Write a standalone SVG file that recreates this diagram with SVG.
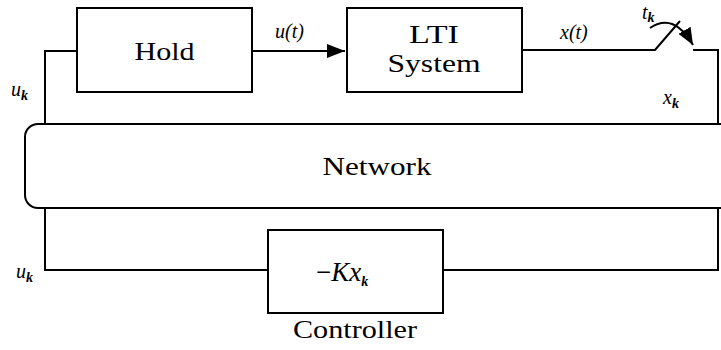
<svg xmlns="http://www.w3.org/2000/svg" width="721" height="350" viewBox="0 0 721 350">
  <defs>
    <marker id="arrowBig" viewBox="0 0 10 10" refX="10" refY="5" markerWidth="18" markerHeight="14" markerUnits="userSpaceOnUse" orient="auto" preserveAspectRatio="none">
      <path d="M0,0 L10,5 L0,10 z" fill="#000"/>
    </marker>
    <marker id="arrowSw" viewBox="0 0 10 10" refX="10" refY="5" markerWidth="17" markerHeight="14" markerUnits="userSpaceOnUse" orient="auto" preserveAspectRatio="none">
      <path d="M0,0 L10,5 L0,10 z" fill="#000"/>
    </marker>
  </defs>
  <style>
    .box { fill: #fff; stroke: #000; stroke-width: 2; }
    .wire { fill: none; stroke: #000; stroke-width: 2; }
    .lbl { fill: #000; }
    .block { font-size: 26px; text-anchor: middle; }
    .math { font-size: 20px; font-style: italic; }
    .sub { font-size: 14px; font-style: italic; font-weight: bold; }
  </style>
  <rect width="721" height="350" fill="#fff"/>

  <!-- connectors -->
  <g id="connectors">
    <!-- network to hold -->
    <polyline class="wire" points="45,124 45,51 77,51"/>
    <!-- hold to plant -->
    <line class="wire" x1="252" y1="51" x2="345" y2="51" marker-end="url(#arrowBig)"/>
    <!-- plant output through sampler -->
    <polyline class="wire" points="522,50 655,50 680,21"/>
    <polyline class="wire" points="693,50 718,50 718,124"/>
    <path class="wire" d="M650,28 Q674,12 693,45" marker-end="url(#arrowSw)"/>
    <!-- network to controller and back -->
    <polyline class="wire" points="718,208 718,270 443,270"/>
    <polyline class="wire" points="268,270 45,270 45,208"/>
  </g>

  <g font-family="'Liberation Serif', 'Times New Roman', 'DejaVu Serif', serif">
  <g id="hold">
    <rect class="box" x="77" y="8" width="175" height="84"/>
    <text class="lbl block" x="164.5" y="60" textLength="60" lengthAdjust="spacingAndGlyphs">Hold</text>
  </g>

  <g id="lti">
    <rect class="box" x="347" y="8" width="175" height="84"/>
    <text class="lbl block" x="434" y="43" textLength="50" lengthAdjust="spacingAndGlyphs">LTI</text>
    <text class="lbl block" x="434" y="72" textLength="93" lengthAdjust="spacingAndGlyphs">System</text>
  </g>

  <g id="network">
    <rect class="box" x="25" y="124" width="720" height="84" rx="13" ry="13"/>
    <text class="lbl block" x="377" y="175" textLength="109" lengthAdjust="spacingAndGlyphs">Network</text>
  </g>

  <g id="controller">
    <rect class="box" x="268" y="230" width="175" height="83"/>
    <text class="lbl" x="316" y="281" font-size="27"><tspan>−</tspan><tspan font-style="italic">Kx</tspan><tspan class="sub" dy="5">k</tspan></text>
    <text class="lbl block" x="355" y="338" textLength="124" lengthAdjust="spacingAndGlyphs">Controller</text>
  </g>

  <!-- signal labels -->
  <g id="labels">
    <text class="lbl math" x="275" y="38">u(t)</text>
    <text class="lbl math" x="560" y="39">x(t)</text>
    <text class="lbl math" x="642" y="19">t<tspan class="sub" dy="3">k</tspan></text>
    <text class="lbl math" x="11" y="96">u<tspan class="sub" dy="4">k</tspan></text>
    <text class="lbl math" x="663" y="104">x<tspan class="sub" dy="4">k</tspan></text>
    <text class="lbl math" x="16" y="278">u<tspan class="sub" dy="4">k</tspan></text>
  </g>
  </g>
</svg>
